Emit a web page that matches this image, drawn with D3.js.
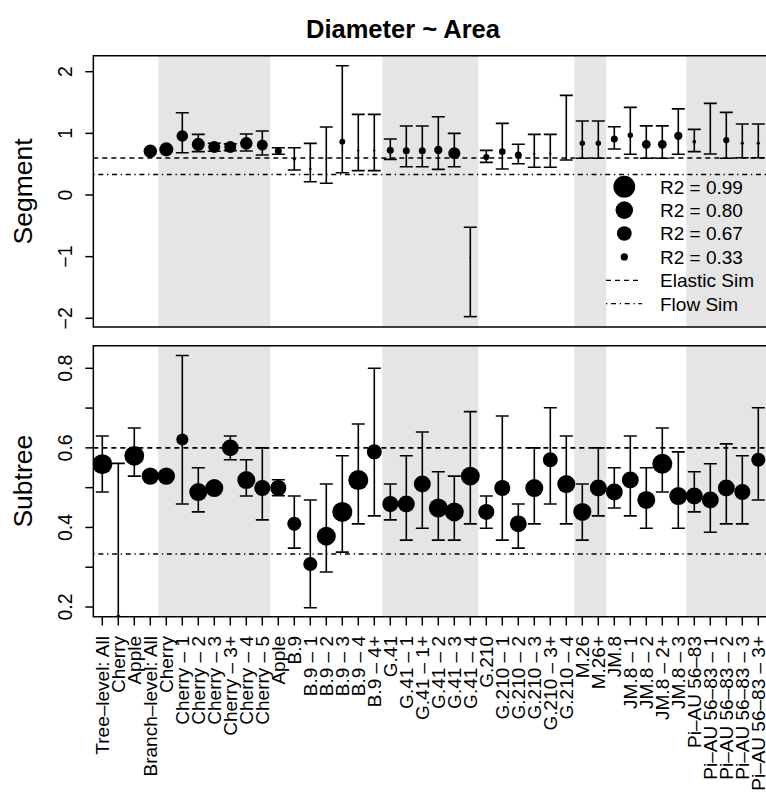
<!DOCTYPE html>
<html><head><meta charset="utf-8">
<script src="https://cdn.jsdelivr.net/npm/d3@7"></script>
<style>body{margin:0;background:#fff}svg{display:block}text{font-family:"Liberation Sans",Arial,Helvetica,sans-serif;fill:#000}</style>
</head><body><svg id="c" width="766" height="797"></svg>
<script>
const categories = ["Tree–level: All","Cherry","Apple","Branch–level: All","Cherry","Cherry – 1","Cherry – 2","Cherry – 3","Cherry – 3+","Cherry – 4","Cherry – 5","Apple","B.9","B.9 – 1","B.9 – 2","B.9 – 3","B.9 – 4","B.9 – 4+","G.41","G.41 – 1","G.41 – 1+","G.41 – 2","G.41 – 3","G.41 – 4","G.210","G.210 – 1","G.210 – 2","G.210 – 3","G.210 – 3+","G.210 – 4","M.26","M.26+","JM.8","JM.8 – 1","JM.8 – 2","JM.8 – 2+","JM.8 – 3","Pi–AU 56–83","Pi–AU 56–83 – 1","Pi–AU 56–83 – 2","Pi–AU 56–83 – 3","Pi–AU 56–83 – 3+"];

// shaded groups (first and last category index, 1-based)
const shadedGroups = [[5,11],[19,24],[31,32],[38,42]];

// Segment panel
const segValue = [null,null,null,0.71,0.74,0.957,0.822,0.778,0.778,0.838,0.81,0.713,0.578,0.42,0.59,0.865,0.719,0.719,0.724,0.719,0.719,0.730,0.676,-1.016,0.616,0.703,0.649,0.67,0.67,0.58,0.84,0.84,0.908,0.97,0.822,0.822,0.96,0.865,0.99,0.89,0.838,0.838];
const segLo = [null,null,null,null,null,0.686,0.703,0.71,0.72,0.713,0.649,0.66,0.405,0.216,0.19,0.36,0.395,0.395,0.578,0.459,0.459,0.416,0.459,-1.973,0.53,0.421,0.508,0.449,0.449,0.567,0.595,0.595,0.746,0.66,0.595,0.595,0.66,0.703,0.665,0.595,0.605,0.605];
const segHi = [null,null,null,null,null,1.335,0.984,0.84,0.83,0.989,1.038,0.767,0.767,0.838,1.103,2.097,1.308,1.308,0.908,1.119,1.119,1.27,1.0,-0.524,0.724,1.162,0.822,0.984,0.984,1.616,1.2,1.2,1.108,1.422,1.122,1.122,1.397,1.065,1.486,1.341,1.151,1.151];
const segR2 = [null,null,null,0.61,0.64,0.53,0.59,0.55,0.55,0.57,0.5,0.32,0.12,0.12,0.08,0.27,0.1,0.1,0.32,0.32,0.32,0.38,0.55,0.08,0.28,0.3,0.32,0.1,0.1,0.06,0.25,0.25,0.32,0.25,0.4,0.4,0.38,0.17,0.05,0.28,0.15,0.15];

// Subtree panel
const subValue = [0.559,0.175,0.58,0.529,0.529,0.621,0.489,0.499,0.60,0.519,0.499,0.499,0.409,0.308,0.378,0.439,0.519,0.59,0.459,0.459,0.509,0.449,0.439,0.529,0.439,0.499,0.409,0.499,0.57,0.509,0.439,0.499,0.489,0.519,0.469,0.56,0.479,0.479,0.469,0.499,0.489,0.57];
const subLo = [0.489,0.0,0.529,null,null,0.459,0.439,null,0.57,0.479,0.419,0.48,0.348,0.198,0.288,0.338,0.409,0.429,0.419,0.368,0.398,0.368,0.368,0.409,0.398,0.368,0.348,0.409,0.459,0.409,0.368,0.429,0.449,0.429,0.398,0.489,0.398,0.439,0.388,0.409,0.409,0.469];
const subHi = [0.63,0.561,0.65,null,null,0.832,0.55,null,0.63,0.57,0.60,0.52,0.479,0.469,0.509,0.58,0.66,0.80,0.509,0.58,0.64,0.54,0.529,0.691,0.479,0.68,0.459,0.60,0.701,0.63,0.509,0.60,0.55,0.63,0.55,0.65,0.59,0.54,0.56,0.61,0.58,0.701];
const subR2 = [0.91,0.2,0.9,0.79,0.79,0.55,0.82,0.82,0.77,0.82,0.73,0.73,0.64,0.64,0.86,0.91,0.91,0.68,0.73,0.77,0.77,0.86,0.86,0.86,0.73,0.73,0.77,0.82,0.68,0.82,0.82,0.77,0.77,0.77,0.82,0.91,0.82,0.77,0.77,0.77,0.73,0.64];

const segTicks = [-2,-1,0,1,2];
const subTicks = [0.2,0.3,0.4,0.5,0.6,0.7,0.8];
const subTickLabels = [0.2,0.4,0.6,0.8];
const elasticSim = 0.6, flowSim = 1/3;
const legendR2 = [0.99,0.80,0.67,0.33];

const svg = d3.select("#c");
const n = categories.length;
const x = d3.scaleLinear().domain([1, n]).range([102.3, 758.3]);
const rScale = d3.scaleLinear().domain([0,1]).range([0,11]);
const xL = x(0.44), xR = x(n + 0.56);

function panel(cfg){
  const {top, bottom, y, vals, lo, hi, r2, ticks, labels, fmt, ylab, id} = cfg;
  const g = svg.append("g");
  g.append("clipPath").attr("id", id).append("rect")
    .attr("x", xL).attr("y", top).attr("width", xR - xL).attr("height", bottom - top);
  const pg = g.append("g").attr("clip-path", `url(#${id})`);
  shadedGroups.forEach(([a,b]) => {
    pg.append("rect").attr("x", x(a-0.5)).attr("width", x(b+0.5)-x(a-0.5))
      .attr("y", top).attr("height", bottom-top).attr("fill", "#e5e5e5");
  });
  pg.append("line").attr("x1", xL).attr("x2", xR).attr("y1", y(elasticSim)).attr("y2", y(elasticSim))
    .attr("stroke", "#000").attr("stroke-width", 1.6).attr("stroke-dasharray", "5,4");
  pg.append("line").attr("x1", xL).attr("x2", xR).attr("y1", y(flowSim)).attr("y2", y(flowSim))
    .attr("stroke", "#000").attr("stroke-width", 1.6).attr("stroke-dasharray", "1.3,3.7,5,3.7");
  const idx = d3.range(n);
  idx.forEach(i => {
    if (lo[i] == null || hi[i] == null) return;
    const cx = x(i+1);
    const eg = pg.append("g").attr("stroke", "#000").attr("stroke-width", 1.6).attr("fill","none");
    eg.append("line").attr("x1", cx).attr("x2", cx).attr("y1", y(lo[i])).attr("y2", y(hi[i]));
    eg.append("line").attr("x1", cx-6.5).attr("x2", cx+6.5).attr("y1", y(lo[i])).attr("y2", y(lo[i]));
    eg.append("line").attr("x1", cx-6.5).attr("x2", cx+6.5).attr("y1", y(hi[i])).attr("y2", y(hi[i]));
  });
  idx.forEach(i => {
    if (vals[i] == null) return;
    pg.append("circle").attr("cx", x(i+1)).attr("cy", y(vals[i])).attr("r", rScale(r2[i])).attr("fill", "#000");
  });
  // box
  g.append("path").attr("d", `M${xR},${top}H${xL}V${bottom}H${xR}`)
    .attr("fill","none").attr("stroke","#000").attr("stroke-width",1.5);
  // y axis
  ticks.forEach(t => {
    g.append("line").attr("x1", xL-8).attr("x2", xL).attr("y1", y(t)).attr("y2", y(t))
      .attr("stroke","#000").attr("stroke-width",1.5);
  });
  labels.forEach(t => {
    g.append("text").attr("transform", `translate(71.5,${y(t)}) rotate(-90)`)
      .attr("text-anchor","middle").attr("font-size", 19.5).text(fmt(t));
  });
  g.append("text").attr("transform", `translate(31.5,${(top+bottom)/2}) rotate(-90)`)
    .attr("text-anchor","middle").attr("font-size", 26.5).text(ylab);
  return g;
}

const ySeg = d3.scaleLinear().domain([-2, 2]).range([318.3, 71.7]);
panel({top:55.7, bottom:327, y:ySeg, vals:segValue, lo:segLo, hi:segHi, r2:segR2,
  ticks:segTicks, labels:segTicks, fmt:d => d < 0 ? "−" + Math.abs(d) : String(d), ylab:"Segment", id:"clipSeg"});

const ySub = d3.scaleLinear().domain([0.2, 0.8]).range([607, 368.3]);
panel({top:345.7, bottom:616.7, y:ySub, vals:subValue, lo:subLo, hi:subHi, r2:subR2,
  ticks:subTicks, labels:subTickLabels, fmt:d3.format(".1f"), ylab:"Subtree", id:"clipSub"});

// x axis
const xa = svg.append("g");
categories.forEach((c,i) => {
  const cx = x(i+1);
  xa.append("line").attr("x1", cx).attr("x2", cx).attr("y1", 616.7).attr("y2", 625.5)
    .attr("stroke","#000").attr("stroke-width",1.5);
  xa.append("text").attr("transform", `translate(${cx},636) rotate(-90)`)
    .attr("text-anchor","end").attr("dy","0.36em").attr("font-size", 19).text(c);
});

// title
svg.append("text").attr("x", 403).attr("y", 38).attr("text-anchor","middle")
  .attr("font-size", 25.5).attr("font-weight","bold").text("Diameter ~ Area");

// legend
const lg = svg.append("g");
const rowY = d3.range(6).map(k => 186.7 + k*23.4);
legendR2.forEach((v,k) => {
  lg.append("circle").attr("cx", 624.3).attr("cy", rowY[k]).attr("r", rScale(v)).attr("fill","#000");
  lg.append("text").attr("x", 660).attr("y", rowY[k]).attr("dy","0.36em").attr("font-size",19).text("R2 = " + v.toFixed(2));
});
lg.append("line").attr("x1",606).attr("x2",642).attr("y1",rowY[4]).attr("y2",rowY[4])
  .attr("stroke","#000").attr("stroke-width",1.2).attr("stroke-dasharray","5,4");
lg.append("text").attr("x",660).attr("y",rowY[4]).attr("dy","0.36em").attr("font-size",19).text("Elastic Sim");
lg.append("line").attr("x1",606).attr("x2",642).attr("y1",rowY[5]).attr("y2",rowY[5])
  .attr("stroke","#000").attr("stroke-width",1.2).attr("stroke-dasharray","1.3,3.7,5,3.7");
lg.append("text").attr("x",660).attr("y",rowY[5]).attr("dy","0.36em").attr("font-size",19).text("Flow Sim");
</script></body></html>
